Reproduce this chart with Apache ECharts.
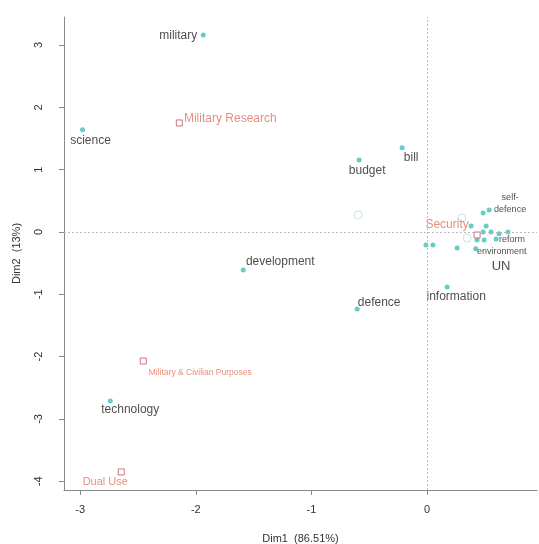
<!DOCTYPE html>
<html><head><meta charset="utf-8">
<script src="https://cdn.jsdelivr.net/npm/echarts@6/dist/echarts.min.js"></script>
<style>html,body{margin:0;padding:0;background:#fff}#c{width:539px;height:544px}</style>
</head><body><div id="c"></div>
<script>
// Words (row points)
const wordNames = ['military','science','budget','bill','development','defence','information','technology',
  'self-defence','reform','environment','UN','w1','w2','w3','w4','w5','w6','w7','w8','w9','w10'];
const wordX = [-1.936,-2.98,-0.588,-0.216,-1.59,-0.605,0.173,-2.74,
  0.536,0.596,0.42,0.622,0.484,0.38,0.51,0.484,0.553,0.70,0.432,0.493,-0.01,0.05];
const wordY = [3.16,1.64,1.156,1.35,-0.61,-1.236,-0.883,-2.71,
  0.353,-0.112,-0.27,-0.03,0.305,0.096,0.096,0.0,0.0,0.0,-0.128,-0.128,-0.21,-0.21];
const extraWordX = [0.26];
const extraWordY = [-0.257];
// Hollow (supplementary) points
const hollowX = [-0.596,0.30,0.346];
const hollowY = [0.273,0.225,-0.096];
// Categories (column points)
const catNames = ['Military Research','Security','Military & Civilian Purposes','Dual Use'];
const catX = [-2.143,0.432,-2.455,-2.645];
const catY = [1.75,-0.048,-2.07,-3.85];
// Tick labels
const xTicks = [-3,-2,-1,0];
const yTicks = [-4,-3,-2,-1,0,1,2,3];

// label styling (offset of label centre from the point, in px)
const wordLabelOffset = {
  'military':[-25,1],'science':[8,11],'budget':[8,11],'bill':[9,10],'development':[37,-8],
  'defence':[22,-6],'information':[9,10],'technology':[20,9],'self-defence':[21,-6],
  'reform':[16,1],'environment':[26,3],'UN':[2,33]
};
const catLabelStyle = {
  'Military Research':{off:[51,-4],size:12},
  'Security':{off:[-30,-10],size:12},
  'Military & Civilian Purposes':{off:[57,12],size:8.5},
  'Dual Use':{off:[-16,10],size:11}
};

const TEAL = '#3fbfb8', RED = '#e0705c';
const FONT = '"Liberation Sans", Arial, sans-serif';

const wordData = wordNames.map((n,i)=>{
  const o = wordLabelOffset[n];
  const item = {name:n, value:[wordX[i],wordY[i]]};
  if (o) {
    item.label = {show:true, position:'inside', align:'center', verticalAlign:'middle', offset:o,
      formatter: n==='self-defence' ? 'self-\ndefence' : n,
      fontSize: (n==='self-defence'||n==='reform'||n==='environment') ? 9 : (n==='UN'?13:12),
      lineHeight: 12, color:'#222', fontFamily: FONT};
  }
  return item;
});
extraWordX.forEach((x,i)=>wordData.push({name:'', value:[x,extraWordY[i]]}));

const catData = catNames.map((n,i)=>{
  const s = catLabelStyle[n];
  return {name:n, value:[catX[i],catY[i]], label:{show:true, position:'inside', align:'center',
    verticalAlign:'middle', offset:s.off, fontSize:s.size, color:RED, fontFamily:FONT, formatter:n}};
});

const chart = echarts.init(document.getElementById('c'), null, {renderer:'canvas'});
chart.setOption({
  animation:false,
  grid:{left:64, right:2, top:17, bottom:54, containLabel:false, outerBoundsMode:'none'},
  xAxis:{type:'value', min:-3.14, max:0.95, splitLine:{show:false},
    axisLine:{show:true, onZero:false, lineStyle:{color:'#888', width:1}},
    axisTick:{show:true, length:5, customValues:xTicks, lineStyle:{color:'#888'}},
    axisLabel:{customValues:xTicks, color:'#333', fontSize:11, fontFamily:FONT, margin:14},
    name:'Dim1  (86.51%)', nameLocation:'middle', nameGap:43,
    nameTextStyle:{color:'#333', fontSize:11, fontFamily:FONT}},
  yAxis:{type:'value', min:-4.14, max:3.45, splitLine:{show:false},
    axisLine:{show:true, onZero:false, lineStyle:{color:'#888', width:1}},
    axisTick:{show:true, length:5, customValues:yTicks, lineStyle:{color:'#888'}},
    axisLabel:{customValues:yTicks, rotate:90, color:'#333', fontSize:11, fontFamily:FONT, margin:20},
    name:'Dim2  (13%)', nameLocation:'middle', nameGap:42,
    nameTextStyle:{color:'#333', fontSize:11, fontFamily:FONT}},
  series:[
    {type:'scatter', symbol:'circle', symbolSize:5, itemStyle:{color:TEAL}, data:wordData,
      markLine:{silent:true, symbol:'none', label:{show:false},
        lineStyle:{color:'#bbb', type:[2,2], width:1},
        data:[{xAxis:0},{yAxis:0}]}},
    {type:'scatter', symbol:'circle', symbolSize:8,
      itemStyle:{color:'rgba(0,0,0,0)', borderColor:'#b5dedd', borderWidth:1},
      data:hollowX.map((x,i)=>[x,hollowY[i]])},
    {type:'scatter', symbol:'rect', symbolSize:6,
      itemStyle:{color:'#fff', borderColor:'#c8505c', borderWidth:1}, data:catData}
  ]
});
</script></body></html>
